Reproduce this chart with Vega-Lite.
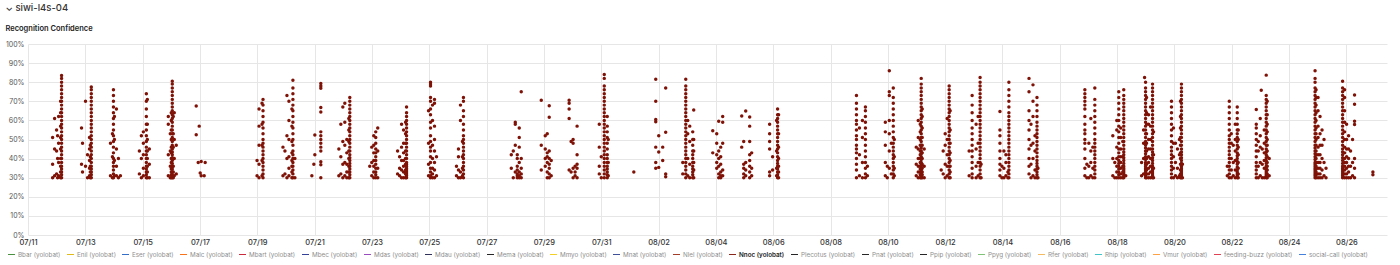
{
"$schema":"https://vega.github.io/schema/vega-lite/v6.json",
"width":1359,"height":191,
"autosize":{"type":"none"},
"padding":{"left":28,"top":44,"right":13,"bottom":30},
"background":"white",
"title":{"text":"⌄ siwi-l4s-04","subtitle":"Recognition Confidence","anchor":"start","frame":"bounds","font":"Inter","fontSize":9.5,"fontWeight":500,"color":"#333333","subtitleFont":"Inter","subtitleFontSize":7.5,"subtitleFontWeight":600,"subtitleColor":"#222222","subtitlePadding":12,"offset":8,"dx":0},
"config":{"view":{"stroke":null}},
"data":{"format":{"parse":{"t":"date:'%m%d %H%M'"}},"values":[
{"t":"0712 0407","v":30},{"t":"0712 0407","v":31.5},{"t":"0712 0407","v":33},{"t":"0712 0407","v":34.5},{"t":"0712 0407","v":36},{"t":"0712 0407","v":38},{"t":"0712 0407","v":40},{"t":"0712 0407","v":42},{"t":"0712 0407","v":44},{"t":"0712 0407","v":46},{"t":"0712 0407","v":48},{"t":"0712 0407","v":50},{"t":"0712 0407","v":52},{"t":"0712 0407","v":54},{"t":"0712 0407","v":56},{"t":"0712 0407","v":58},{"t":"0712 0407","v":60},{"t":"0712 0407","v":62},{"t":"0712 0407","v":64},{"t":"0712 0407","v":66},{"t":"0712 0407","v":68},{"t":"0712 0407","v":70},{"t":"0712 0407","v":72},{"t":"0712 0407","v":74},{"t":"0712 0407","v":76},{"t":"0712 0407","v":78},{"t":"0712 0407","v":80},{"t":"0712 0407","v":82},{"t":"0712 0407","v":83.5},
{"t":"0712 0317","v":30},{"t":"0712 0317","v":33},{"t":"0712 0317","v":36},{"t":"0712 0317","v":40},{"t":"0712 0317","v":45},{"t":"0712 0317","v":51},{"t":"0712 0317","v":57},{"t":"0712 0317","v":64},{"t":"0712 0317","v":70},
{"t":"0712 0137","v":31},{"t":"0712 0137","v":38},{"t":"0712 0137","v":48},{"t":"0712 0137","v":62},
{"t":"0712 0047","v":30},{"t":"0712 0047","v":40},{"t":"0712 0047","v":52},
{"t":"0711 2357","v":32},{"t":"0711 2357","v":44},{"t":"0711 2357","v":55},
{"t":"0711 2217","v":31},{"t":"0711 2217","v":45},{"t":"0711 2217","v":61},
{"t":"0711 2037","v":30},{"t":"0711 2037","v":37},{"t":"0711 2037","v":51},
{"t":"0713 0500","v":30},{"t":"0713 0500","v":31.5},{"t":"0713 0500","v":33},{"t":"0713 0500","v":34.5},{"t":"0713 0500","v":36},{"t":"0713 0500","v":38},{"t":"0713 0500","v":40},{"t":"0713 0500","v":42},{"t":"0713 0500","v":44},{"t":"0713 0500","v":46},{"t":"0713 0500","v":48},{"t":"0713 0500","v":50},{"t":"0713 0500","v":52},{"t":"0713 0500","v":54},{"t":"0713 0500","v":56},{"t":"0713 0500","v":58},{"t":"0713 0500","v":60},{"t":"0713 0500","v":62},{"t":"0713 0500","v":64},{"t":"0713 0500","v":66},{"t":"0713 0500","v":68},{"t":"0713 0500","v":70},{"t":"0713 0500","v":72},{"t":"0713 0500","v":74},{"t":"0713 0500","v":76},{"t":"0713 0500","v":77.5},
{"t":"0713 0410","v":30},{"t":"0713 0410","v":33},{"t":"0713 0410","v":36},{"t":"0713 0410","v":41},{"t":"0713 0410","v":47},
{"t":"0713 0330","v":31},{"t":"0713 0330","v":35},{"t":"0713 0330","v":39},{"t":"0713 0330","v":45},{"t":"0713 0330","v":51},
{"t":"0713 0150","v":30},{"t":"0713 0150","v":42},{"t":"0713 0010","v":36},{"t":"0713 0010","v":70},
{"t":"0712 2140","v":33},{"t":"0712 2140","v":48},{"t":"0712 2050","v":37},{"t":"0712 2050","v":56},
{"t":"0713 2333","v":30},{"t":"0713 2333","v":32},{"t":"0713 2333","v":34},{"t":"0713 2333","v":36},{"t":"0713 2333","v":38},{"t":"0713 2333","v":40},{"t":"0713 2333","v":43},{"t":"0713 2333","v":46},{"t":"0713 2333","v":49},{"t":"0713 2333","v":52},{"t":"0713 2333","v":55},{"t":"0713 2333","v":58},{"t":"0713 2333","v":61},{"t":"0713 2333","v":64},{"t":"0713 2333","v":67},{"t":"0713 2333","v":70},{"t":"0713 2333","v":73},{"t":"0713 2333","v":76},
{"t":"0714 0023","v":31},{"t":"0714 0023","v":39},{"t":"0714 0023","v":50},{"t":"0714 0023","v":62},
{"t":"0713 2243","v":30},{"t":"0713 2243","v":41},{"t":"0713 2243","v":53},
{"t":"0713 2103","v":31},{"t":"0713 2103","v":48},
{"t":"0714 0203","v":31},{"t":"0714 0203","v":36},{"t":"0714 0203","v":45},{"t":"0714 0203","v":66},
{"t":"0714 0343","v":30},{"t":"0714 0343","v":40},{"t":"0714 0523","v":31},
{"t":"0715 0306","v":30},{"t":"0715 0306","v":31.5},{"t":"0715 0306","v":33},{"t":"0715 0306","v":34.5},{"t":"0715 0306","v":36},{"t":"0715 0306","v":38},{"t":"0715 0306","v":40},{"t":"0715 0306","v":42},{"t":"0715 0306","v":44},{"t":"0715 0306","v":46},{"t":"0715 0306","v":49},{"t":"0715 0306","v":52},{"t":"0715 0306","v":55},{"t":"0715 0306","v":58},{"t":"0715 0306","v":62},{"t":"0715 0306","v":66},{"t":"0715 0306","v":70},{"t":"0715 0306","v":74},
{"t":"0715 0356","v":30},{"t":"0715 0356","v":33},{"t":"0715 0356","v":36},{"t":"0715 0356","v":40},{"t":"0715 0356","v":44},{"t":"0715 0356","v":50},{"t":"0715 0356","v":58},{"t":"0715 0356","v":71},
{"t":"0715 0036","v":31},{"t":"0715 0036","v":35},{"t":"0715 0036","v":42},{"t":"0715 0036","v":48},{"t":"0715 0036","v":54},
{"t":"0714 2256","v":30},{"t":"0714 2256","v":40},{"t":"0714 2256","v":52},
{"t":"0714 2116","v":32},{"t":"0714 2116","v":44},
{"t":"0715 0536","v":30},{"t":"0715 0536","v":37},{"t":"0715 0536","v":45},
{"t":"0716 0049","v":30},{"t":"0716 0049","v":31.5},{"t":"0716 0049","v":33},{"t":"0716 0049","v":34.5},{"t":"0716 0049","v":36},{"t":"0716 0049","v":37.5},{"t":"0716 0049","v":39},{"t":"0716 0049","v":40.5},{"t":"0716 0049","v":42},{"t":"0716 0049","v":43.5},{"t":"0716 0049","v":45},{"t":"0716 0049","v":47},{"t":"0716 0049","v":49},{"t":"0716 0049","v":51},{"t":"0716 0049","v":53},{"t":"0716 0049","v":55},{"t":"0716 0049","v":57},{"t":"0716 0049","v":59},{"t":"0716 0049","v":61},{"t":"0716 0049","v":63},{"t":"0716 0049","v":65},{"t":"0716 0049","v":67},{"t":"0716 0049","v":69},{"t":"0716 0049","v":71},{"t":"0716 0049","v":73},{"t":"0716 0049","v":75},{"t":"0716 0049","v":77},{"t":"0716 0049","v":79},{"t":"0716 0049","v":80.5},
{"t":"0715 2359","v":30},{"t":"0715 2359","v":31.5},{"t":"0715 2359","v":33},{"t":"0715 2359","v":34.5},{"t":"0715 2359","v":36},{"t":"0715 2359","v":38},{"t":"0715 2359","v":40},{"t":"0715 2359","v":43},{"t":"0715 2359","v":46},{"t":"0715 2359","v":50},{"t":"0715 2359","v":55},{"t":"0715 2359","v":60},{"t":"0715 2359","v":64},
{"t":"0716 0139","v":30},{"t":"0716 0139","v":33},{"t":"0716 0139","v":36},{"t":"0716 0139","v":40},{"t":"0716 0139","v":46},{"t":"0716 0139","v":53},{"t":"0716 0139","v":62},
{"t":"0716 0229","v":31},{"t":"0716 0229","v":40},{"t":"0716 0229","v":50},{"t":"0716 0229","v":64},
{"t":"0715 2309","v":30},{"t":"0715 2309","v":36},{"t":"0715 2309","v":44},{"t":"0715 2309","v":53},
{"t":"0715 2129","v":31},{"t":"0715 2129","v":42},{"t":"0715 2129","v":58},{"t":"0715 2129","v":62},
{"t":"0716 0409","v":32},{"t":"0716 0409","v":47},
{"t":"0716 2052","v":67.5},{"t":"0716 2052","v":52.5},{"t":"0716 2322","v":57},{"t":"0716 2232","v":38},{"t":"0717 0102","v":38.5},{"t":"0717 0102","v":31},{"t":"0717 0422","v":38},{"t":"0717 0012","v":32.5},{"t":"0717 0332","v":31},
{"t":"0719 0448","v":30},{"t":"0719 0448","v":32},{"t":"0719 0448","v":34},{"t":"0719 0448","v":36},{"t":"0719 0448","v":38},{"t":"0719 0448","v":40},{"t":"0719 0448","v":42},{"t":"0719 0448","v":44},{"t":"0719 0448","v":46},{"t":"0719 0448","v":48},{"t":"0719 0448","v":50},{"t":"0719 0448","v":53},{"t":"0719 0448","v":56},{"t":"0719 0448","v":59},{"t":"0719 0448","v":62},{"t":"0719 0448","v":65},{"t":"0719 0448","v":68},{"t":"0719 0448","v":71},
{"t":"0719 0358","v":31},{"t":"0719 0358","v":39},{"t":"0719 0358","v":47},{"t":"0719 0358","v":58},{"t":"0719 0358","v":69},
{"t":"0719 0128","v":30},{"t":"0719 0128","v":37},{"t":"0719 0128","v":47},{"t":"0719 0128","v":57},{"t":"0719 0128","v":66},
{"t":"0718 2348","v":31},{"t":"0718 2348","v":39},
{"t":"0720 0550","v":30},{"t":"0720 0550","v":32},{"t":"0720 0550","v":34},{"t":"0720 0550","v":36},{"t":"0720 0550","v":38},{"t":"0720 0550","v":40},{"t":"0720 0550","v":42},{"t":"0720 0550","v":44},{"t":"0720 0550","v":47},{"t":"0720 0550","v":50},{"t":"0720 0550","v":53},{"t":"0720 0550","v":56},{"t":"0720 0550","v":59},{"t":"0720 0550","v":62},{"t":"0720 0550","v":65},{"t":"0720 0550","v":68},{"t":"0720 0550","v":71},{"t":"0720 0550","v":74},{"t":"0720 0550","v":77},{"t":"0720 0550","v":81},
{"t":"0720 0500","v":30},{"t":"0720 0500","v":33},{"t":"0720 0500","v":36},{"t":"0720 0500","v":39},{"t":"0720 0500","v":43},{"t":"0720 0500","v":49},{"t":"0720 0500","v":57},{"t":"0720 0500","v":66},
{"t":"0720 0230","v":31},{"t":"0720 0230","v":35},{"t":"0720 0230","v":41},{"t":"0720 0230","v":50},{"t":"0720 0230","v":60},{"t":"0720 0230","v":70},
{"t":"0720 0050","v":30},{"t":"0720 0050","v":40},{"t":"0720 0050","v":52},{"t":"0720 0050","v":73},
{"t":"0719 2310","v":32},{"t":"0719 2310","v":44},{"t":"0719 2130","v":31},{"t":"0719 2130","v":46},{"t":"0720 0730","v":30},{"t":"0720 0730","v":40},
{"t":"0721 0512","v":30},{"t":"0721 0512","v":36.8},{"t":"0721 0512","v":38.4},{"t":"0721 0512","v":44},{"t":"0721 0512","v":46},{"t":"0721 0512","v":48},{"t":"0721 0512","v":50},{"t":"0721 0512","v":52},{"t":"0721 0512","v":54},{"t":"0721 0512","v":64.4},{"t":"0721 0512","v":66.8},{"t":"0721 0512","v":76.8},{"t":"0721 0512","v":78},{"t":"0721 0512","v":79.3},
{"t":"0720 2142","v":31},{"t":"0720 2322","v":37},{"t":"0721 0012","v":42},{"t":"0721 0012","v":52.3},
{"t":"0722 0528","v":30},{"t":"0722 0528","v":31.5},{"t":"0722 0528","v":33},{"t":"0722 0528","v":34.5},{"t":"0722 0528","v":36},{"t":"0722 0528","v":37.5},{"t":"0722 0528","v":39},{"t":"0722 0528","v":40.5},{"t":"0722 0528","v":42},{"t":"0722 0528","v":44},{"t":"0722 0528","v":46},{"t":"0722 0528","v":48},{"t":"0722 0528","v":50},{"t":"0722 0528","v":52},{"t":"0722 0528","v":54},{"t":"0722 0528","v":56},{"t":"0722 0528","v":58},{"t":"0722 0528","v":60},{"t":"0722 0528","v":62},{"t":"0722 0528","v":64},{"t":"0722 0528","v":66},{"t":"0722 0528","v":68},{"t":"0722 0528","v":70},{"t":"0722 0528","v":72},
{"t":"0722 0438","v":30},{"t":"0722 0438","v":33},{"t":"0722 0438","v":36},{"t":"0722 0438","v":40},{"t":"0722 0438","v":44},{"t":"0722 0438","v":49},{"t":"0722 0438","v":55},{"t":"0722 0438","v":61},
{"t":"0722 0258","v":30},{"t":"0722 0258","v":33},{"t":"0722 0258","v":37},{"t":"0722 0258","v":43},{"t":"0722 0258","v":50},
{"t":"0722 0118","v":31},{"t":"0722 0118","v":38},{"t":"0722 0118","v":47},{"t":"0722 0118","v":59},{"t":"0722 0118","v":69},
{"t":"0721 2338","v":30},{"t":"0721 2338","v":37},{"t":"0721 2338","v":49},{"t":"0721 2338","v":67},
{"t":"0721 2158","v":32},{"t":"0721 2158","v":41},{"t":"0721 2158","v":58},
{"t":"0721 2018","v":31},{"t":"0721 2018","v":45},
{"t":"0723 0312","v":30},{"t":"0723 0312","v":31.5},{"t":"0723 0312","v":33},{"t":"0723 0312","v":35},{"t":"0723 0312","v":37},{"t":"0723 0312","v":39},{"t":"0723 0312","v":41},{"t":"0723 0312","v":43},{"t":"0723 0312","v":45},{"t":"0723 0312","v":48},{"t":"0723 0312","v":51},{"t":"0723 0312","v":54},
{"t":"0723 0132","v":30},{"t":"0723 0132","v":33},{"t":"0723 0132","v":36},{"t":"0723 0132","v":39},{"t":"0723 0132","v":43},{"t":"0723 0132","v":47},{"t":"0723 0132","v":52},
{"t":"0722 2352","v":31},{"t":"0722 2352","v":38},{"t":"0722 2352","v":46},
{"t":"0723 0452","v":30},{"t":"0723 0452","v":35},{"t":"0723 0452","v":44},{"t":"0723 0452","v":56},
{"t":"0722 2212","v":36},
{"t":"0724 0500","v":30},{"t":"0724 0500","v":31},{"t":"0724 0500","v":32},{"t":"0724 0500","v":33},{"t":"0724 0500","v":34},{"t":"0724 0500","v":35},{"t":"0724 0500","v":36},{"t":"0724 0500","v":37},{"t":"0724 0500","v":38},{"t":"0724 0500","v":40},{"t":"0724 0500","v":42},{"t":"0724 0500","v":44},{"t":"0724 0500","v":46},{"t":"0724 0500","v":48},{"t":"0724 0500","v":50},{"t":"0724 0500","v":52},{"t":"0724 0500","v":54},{"t":"0724 0500","v":56},{"t":"0724 0500","v":58},{"t":"0724 0500","v":60},{"t":"0724 0500","v":62},{"t":"0724 0500","v":64},{"t":"0724 0500","v":67},
{"t":"0724 0410","v":30},{"t":"0724 0410","v":32},{"t":"0724 0410","v":34},{"t":"0724 0410","v":37},{"t":"0724 0410","v":40},{"t":"0724 0410","v":44},{"t":"0724 0410","v":48},{"t":"0724 0410","v":53},{"t":"0724 0410","v":59},
{"t":"0724 0230","v":30},{"t":"0724 0230","v":33},{"t":"0724 0230","v":36},{"t":"0724 0230","v":39},{"t":"0724 0230","v":43},{"t":"0724 0230","v":48},{"t":"0724 0230","v":55},
{"t":"0724 0050","v":30},{"t":"0724 0050","v":34},{"t":"0724 0050","v":39},{"t":"0724 0050","v":46},{"t":"0724 0050","v":58},
{"t":"0723 2310","v":31},{"t":"0723 2310","v":35},{"t":"0723 2310","v":41},
{"t":"0723 2130","v":32},{"t":"0723 2130","v":44},
{"t":"0725 0104","v":30},{"t":"0725 0104","v":31},{"t":"0725 0104","v":33},{"t":"0725 0104","v":35},{"t":"0725 0104","v":38},{"t":"0725 0104","v":41},{"t":"0725 0104","v":44},{"t":"0725 0104","v":46},{"t":"0725 0104","v":49},{"t":"0725 0104","v":52},{"t":"0725 0104","v":56},{"t":"0725 0104","v":59},{"t":"0725 0104","v":63},{"t":"0725 0104","v":66},{"t":"0725 0104","v":70},{"t":"0725 0104","v":72},{"t":"0725 0104","v":78},{"t":"0725 0104","v":79},{"t":"0725 0104","v":80},
{"t":"0724 2324","v":31},{"t":"0724 2324","v":37},{"t":"0724 2324","v":48},{"t":"0724 2324","v":65},
{"t":"0725 0244","v":30},{"t":"0725 0244","v":32},{"t":"0725 0244","v":35},{"t":"0725 0244","v":40},{"t":"0725 0244","v":47},{"t":"0725 0244","v":60},{"t":"0725 0244","v":68},
{"t":"0725 0424","v":30},{"t":"0725 0424","v":34},{"t":"0725 0424","v":38},{"t":"0725 0424","v":44},{"t":"0725 0424","v":50},{"t":"0725 0424","v":57},{"t":"0725 0424","v":69},{"t":"0725 0424","v":71},
{"t":"0725 0604","v":31},{"t":"0725 0604","v":41},
{"t":"0726 0438","v":30},{"t":"0726 0438","v":32},{"t":"0726 0438","v":34},{"t":"0726 0438","v":36},{"t":"0726 0438","v":38},{"t":"0726 0438","v":40},{"t":"0726 0438","v":42},{"t":"0726 0438","v":44},{"t":"0726 0438","v":46},{"t":"0726 0438","v":48},{"t":"0726 0438","v":50},{"t":"0726 0438","v":52},{"t":"0726 0438","v":55},{"t":"0726 0438","v":58},{"t":"0726 0438","v":62},{"t":"0726 0438","v":65},{"t":"0726 0438","v":70},{"t":"0726 0438","v":72},
{"t":"0726 0348","v":31},{"t":"0726 0348","v":35},{"t":"0726 0348","v":41},{"t":"0726 0348","v":49},
{"t":"0726 0028","v":30},{"t":"0726 0028","v":34},{"t":"0726 0028","v":41},{"t":"0726 0028","v":45},
{"t":"0725 2248","v":31},{"t":"0725 2248","v":36},
{"t":"0726 0208","v":30},{"t":"0726 0208","v":33},{"t":"0726 0208","v":60},{"t":"0726 0208","v":68},
{"t":"0727 2042","v":35},{"t":"0727 2042","v":42},{"t":"0727 2222","v":30},{"t":"0727 2222","v":44},
{"t":"0728 0002","v":33},{"t":"0728 0002","v":47},{"t":"0728 0002","v":58},{"t":"0728 0002","v":59},
{"t":"0728 0142","v":30},{"t":"0728 0142","v":31},{"t":"0728 0142","v":32},{"t":"0728 0142","v":34},{"t":"0728 0142","v":36},{"t":"0728 0142","v":40},{"t":"0728 0142","v":42},
{"t":"0728 0322","v":30},{"t":"0728 0322","v":31},{"t":"0728 0322","v":33},{"t":"0728 0322","v":38},{"t":"0728 0322","v":46},{"t":"0728 0322","v":51},{"t":"0728 0322","v":56},
{"t":"0728 0502","v":30},{"t":"0728 0502","v":32},{"t":"0728 0502","v":35},{"t":"0728 0502","v":40},{"t":"0728 0502","v":75},
{"t":"0728 2148","v":34},{"t":"0728 2148","v":47},{"t":"0728 2148","v":70.5},
{"t":"0729 0108","v":36},{"t":"0729 0108","v":40},{"t":"0729 0108","v":45},{"t":"0729 0108","v":52},
{"t":"0729 0248","v":30},{"t":"0729 0248","v":33},{"t":"0729 0248","v":38},{"t":"0729 0248","v":41},{"t":"0729 0248","v":43},{"t":"0729 0248","v":53},
{"t":"0729 0428","v":30},{"t":"0729 0428","v":32},{"t":"0729 0428","v":35},{"t":"0729 0428","v":37},{"t":"0729 0428","v":40},{"t":"0729 0428","v":44},{"t":"0729 0428","v":61.6},{"t":"0729 0428","v":67.7},
{"t":"0729 0608","v":31},{"t":"0729 0608","v":39},
{"t":"0729 2108","v":34},{"t":"0729 2108","v":61},{"t":"0729 2108","v":66},{"t":"0729 2108","v":69},{"t":"0729 2108","v":70.5},
{"t":"0729 2248","v":33},{"t":"0729 2248","v":49},
{"t":"0730 0028","v":30},{"t":"0730 0028","v":35},{"t":"0730 0028","v":48},{"t":"0730 0028","v":50},
{"t":"0730 0208","v":31},{"t":"0730 0208","v":33},{"t":"0730 0208","v":36},
{"t":"0730 0348","v":30},{"t":"0730 0348","v":35},{"t":"0730 0348","v":37},{"t":"0730 0348","v":42},{"t":"0730 0348","v":57},
{"t":"0731 0233","v":30},{"t":"0731 0233","v":32},{"t":"0731 0233","v":34},{"t":"0731 0233","v":36},{"t":"0731 0233","v":38},{"t":"0731 0233","v":40},{"t":"0731 0233","v":42},{"t":"0731 0233","v":44},{"t":"0731 0233","v":46},{"t":"0731 0233","v":48},{"t":"0731 0233","v":50},{"t":"0731 0233","v":52},{"t":"0731 0233","v":54},{"t":"0731 0233","v":56},{"t":"0731 0233","v":58},{"t":"0731 0233","v":60},{"t":"0731 0233","v":62},{"t":"0731 0233","v":64},{"t":"0731 0233","v":66},{"t":"0731 0233","v":68},{"t":"0731 0233","v":70},{"t":"0731 0233","v":72},{"t":"0731 0233","v":74},{"t":"0731 0233","v":76},{"t":"0731 0233","v":78},{"t":"0731 0233","v":82},{"t":"0731 0233","v":84},
{"t":"0731 0503","v":30},{"t":"0731 0503","v":31.5},{"t":"0731 0503","v":33},{"t":"0731 0503","v":34.5},{"t":"0731 0503","v":36},{"t":"0731 0503","v":38},{"t":"0731 0503","v":40},{"t":"0731 0503","v":42},{"t":"0731 0503","v":45},{"t":"0731 0503","v":48},{"t":"0731 0503","v":51},{"t":"0731 0503","v":54},{"t":"0731 0503","v":57},{"t":"0731 0503","v":62},
{"t":"0731 0553","v":31},{"t":"0731 0553","v":38},{"t":"0731 0553","v":50},
{"t":"0730 2223","v":32},{"t":"0730 2223","v":36},{"t":"0730 2223","v":46},{"t":"0730 2223","v":58},
{"t":"0731 0003","v":30},{"t":"0731 0003","v":41},
{"t":"0801 0318","v":33},
{"t":"0801 2140","v":81.5},{"t":"0801 2140","v":70},{"t":"0801 2140","v":60.5},{"t":"0801 2140","v":59.3},{"t":"0801 2140","v":46},{"t":"0801 2140","v":38},{"t":"0801 2140","v":35},
{"t":"0802 0010","v":52},{"t":"0802 0010","v":43.4},{"t":"0802 0010","v":35.4},
{"t":"0802 0330","v":46},{"t":"0802 0330","v":39},
{"t":"0802 0600","v":77},{"t":"0802 0600","v":53.8},{"t":"0802 0600","v":32},{"t":"0802 0600","v":30.5},
{"t":"0802 2248","v":30},{"t":"0802 2248","v":32},{"t":"0802 2248","v":34},{"t":"0802 2248","v":36},{"t":"0802 2248","v":38},{"t":"0802 2248","v":40},{"t":"0802 2248","v":42},{"t":"0802 2248","v":44},{"t":"0802 2248","v":46},{"t":"0802 2248","v":48},{"t":"0802 2248","v":50},{"t":"0802 2248","v":52},{"t":"0802 2248","v":54},{"t":"0802 2248","v":56},{"t":"0802 2248","v":58},{"t":"0802 2248","v":60},{"t":"0802 2248","v":62},{"t":"0802 2248","v":64},{"t":"0802 2248","v":66},{"t":"0802 2248","v":68},{"t":"0802 2248","v":70},{"t":"0802 2248","v":72},{"t":"0802 2248","v":74},{"t":"0802 2248","v":76},{"t":"0802 2248","v":78},{"t":"0802 2248","v":81.5},
{"t":"0803 0438","v":30},{"t":"0803 0438","v":31.5},{"t":"0803 0438","v":33},{"t":"0803 0438","v":34.5},{"t":"0803 0438","v":36},{"t":"0803 0438","v":38},{"t":"0803 0438","v":40},{"t":"0803 0438","v":42},{"t":"0803 0438","v":44},{"t":"0803 0438","v":47},{"t":"0803 0438","v":50},{"t":"0803 0438","v":54},
{"t":"0803 0528","v":30},{"t":"0803 0528","v":34},{"t":"0803 0528","v":38},{"t":"0803 0528","v":44},{"t":"0803 0528","v":50},{"t":"0803 0528","v":65.5},
{"t":"0803 0028","v":31},{"t":"0803 0028","v":40},{"t":"0803 0028","v":53},{"t":"0803 0028","v":60},
{"t":"0803 0208","v":30},{"t":"0803 0208","v":37},{"t":"0803 0208","v":49},{"t":"0803 0208","v":57},
{"t":"0802 2018","v":32},{"t":"0802 2018","v":38},
{"t":"0803 2124","v":43},{"t":"0803 2124","v":54.6},
{"t":"0804 0044","v":35},{"t":"0804 0044","v":38},{"t":"0804 0044","v":42},{"t":"0804 0044","v":48},{"t":"0804 0044","v":53},
{"t":"0804 0224","v":30},{"t":"0804 0224","v":32},{"t":"0804 0224","v":36},{"t":"0804 0224","v":40},{"t":"0804 0224","v":44},{"t":"0804 0224","v":59.6},
{"t":"0804 0404","v":30},{"t":"0804 0404","v":31},{"t":"0804 0404","v":33},{"t":"0804 0404","v":37},{"t":"0804 0404","v":41},{"t":"0804 0404","v":46},
{"t":"0804 0544","v":31},{"t":"0804 0544","v":34},{"t":"0804 0544","v":48},{"t":"0804 0544","v":59},{"t":"0804 0544","v":62},
{"t":"0804 2140","v":46},{"t":"0804 2140","v":62.3},
{"t":"0804 2320","v":30},{"t":"0804 2320","v":32},{"t":"0804 2320","v":35},{"t":"0804 2320","v":37},{"t":"0804 2320","v":49},
{"t":"0805 0100","v":31},{"t":"0805 0100","v":34},{"t":"0805 0100","v":38},{"t":"0805 0100","v":64.9},
{"t":"0805 0420","v":30},{"t":"0805 0420","v":33},{"t":"0805 0420","v":36},{"t":"0805 0420","v":39},{"t":"0805 0420","v":42},{"t":"0805 0420","v":49},{"t":"0805 0420","v":57},{"t":"0805 0420","v":61.8},
{"t":"0805 0600","v":31},{"t":"0805 0600","v":35},{"t":"0805 0600","v":43},
{"t":"0806 0342","v":30},{"t":"0806 0342","v":31.5},{"t":"0806 0342","v":33},{"t":"0806 0342","v":34.5},{"t":"0806 0342","v":36},{"t":"0806 0342","v":37.5},{"t":"0806 0342","v":39},{"t":"0806 0342","v":41},{"t":"0806 0342","v":43},{"t":"0806 0342","v":45},{"t":"0806 0342","v":47},{"t":"0806 0342","v":49},{"t":"0806 0342","v":51},{"t":"0806 0342","v":53},{"t":"0806 0342","v":55},{"t":"0806 0342","v":57},{"t":"0806 0342","v":59},{"t":"0806 0342","v":61},{"t":"0806 0342","v":63},{"t":"0806 0342","v":66},
{"t":"0806 0432","v":30},{"t":"0806 0432","v":33},{"t":"0806 0432","v":36},{"t":"0806 0432","v":40},{"t":"0806 0432","v":46},{"t":"0806 0432","v":53},{"t":"0806 0432","v":63},
{"t":"0806 0252","v":31},{"t":"0806 0252","v":35},{"t":"0806 0252","v":44},{"t":"0806 0252","v":60},
{"t":"0805 2102","v":31},{"t":"0805 2102","v":33},{"t":"0805 2102","v":45},{"t":"0805 2102","v":49},{"t":"0805 2102","v":53},{"t":"0805 2102","v":58},
{"t":"0805 2332","v":34},{"t":"0805 2332","v":41},
{"t":"0808 2144","v":30},{"t":"0808 2144","v":34},{"t":"0808 2144","v":37},{"t":"0808 2144","v":40},{"t":"0808 2144","v":43},{"t":"0808 2144","v":45},{"t":"0808 2144","v":47},{"t":"0808 2144","v":50},{"t":"0808 2144","v":52},{"t":"0808 2144","v":55},{"t":"0808 2144","v":58},{"t":"0808 2144","v":60},{"t":"0808 2144","v":63},{"t":"0808 2144","v":66},{"t":"0808 2144","v":69},{"t":"0808 2144","v":73},
{"t":"0809 0014","v":31},{"t":"0809 0014","v":42},{"t":"0809 0014","v":56},
{"t":"0809 0244","v":30},{"t":"0809 0244","v":38},{"t":"0809 0244","v":51},{"t":"0809 0244","v":60},
{"t":"0809 0514","v":30},{"t":"0809 0514","v":32},{"t":"0809 0514","v":35},{"t":"0809 0514","v":38},{"t":"0809 0514","v":41},{"t":"0809 0514","v":44},{"t":"0809 0514","v":47},{"t":"0809 0514","v":50},{"t":"0809 0514","v":53},{"t":"0809 0514","v":56},{"t":"0809 0514","v":59},{"t":"0809 0514","v":62},{"t":"0809 0514","v":65},{"t":"0809 0514","v":67},
{"t":"0809 0654","v":31},{"t":"0809 0654","v":36},
{"t":"0810 0114","v":35},{"t":"0810 0114","v":44},{"t":"0810 0114","v":53},{"t":"0810 0114","v":60},{"t":"0810 0114","v":73},{"t":"0810 0114","v":75},{"t":"0810 0114","v":86},
{"t":"0810 0434","v":30},{"t":"0810 0434","v":32},{"t":"0810 0434","v":34},{"t":"0810 0434","v":36},{"t":"0810 0434","v":38},{"t":"0810 0434","v":40},{"t":"0810 0434","v":42},{"t":"0810 0434","v":44},{"t":"0810 0434","v":46},{"t":"0810 0434","v":48},{"t":"0810 0434","v":51},{"t":"0810 0434","v":54},{"t":"0810 0434","v":57},{"t":"0810 0434","v":60},{"t":"0810 0434","v":63},{"t":"0810 0434","v":66},{"t":"0810 0434","v":69},{"t":"0810 0434","v":72},{"t":"0810 0434","v":77},
{"t":"0810 0524","v":31},{"t":"0810 0524","v":35},{"t":"0810 0524","v":41},{"t":"0810 0524","v":50},
{"t":"0809 2154","v":31},{"t":"0809 2154","v":38},{"t":"0809 2154","v":47},{"t":"0809 2154","v":54},{"t":"0809 2154","v":59},
{"t":"0809 2334","v":30},{"t":"0809 2334","v":36},{"t":"0810 0254","v":32},{"t":"0810 0254","v":48},
{"t":"0811 0358","v":30},{"t":"0811 0358","v":31},{"t":"0811 0358","v":32},{"t":"0811 0358","v":33},{"t":"0811 0358","v":34},{"t":"0811 0358","v":35},{"t":"0811 0358","v":36},{"t":"0811 0358","v":37},{"t":"0811 0358","v":38},{"t":"0811 0358","v":39.5},{"t":"0811 0358","v":41},{"t":"0811 0358","v":42.5},{"t":"0811 0358","v":44},{"t":"0811 0358","v":45.5},{"t":"0811 0358","v":47},{"t":"0811 0358","v":49},{"t":"0811 0358","v":51},{"t":"0811 0358","v":53},{"t":"0811 0358","v":55},{"t":"0811 0358","v":57},{"t":"0811 0358","v":59},{"t":"0811 0358","v":61},{"t":"0811 0358","v":63},{"t":"0811 0358","v":65},{"t":"0811 0358","v":67},{"t":"0811 0358","v":69},{"t":"0811 0358","v":71},{"t":"0811 0358","v":73},{"t":"0811 0358","v":75},{"t":"0811 0358","v":77},{"t":"0811 0358","v":79},{"t":"0811 0358","v":82},
{"t":"0811 0308","v":30},{"t":"0811 0308","v":31.5},{"t":"0811 0308","v":33},{"t":"0811 0308","v":34.5},{"t":"0811 0308","v":36},{"t":"0811 0308","v":38},{"t":"0811 0308","v":40},{"t":"0811 0308","v":42},{"t":"0811 0308","v":44},{"t":"0811 0308","v":47},{"t":"0811 0308","v":50},{"t":"0811 0308","v":54},{"t":"0811 0308","v":58},
{"t":"0811 0448","v":30},{"t":"0811 0448","v":31.5},{"t":"0811 0448","v":33},{"t":"0811 0448","v":35},{"t":"0811 0448","v":37},{"t":"0811 0448","v":40},{"t":"0811 0448","v":43},{"t":"0811 0448","v":47},{"t":"0811 0448","v":51},{"t":"0811 0448","v":56},{"t":"0811 0448","v":62},{"t":"0811 0448","v":66},
{"t":"0811 0128","v":30},{"t":"0811 0128","v":33},{"t":"0811 0128","v":36},{"t":"0811 0128","v":40},{"t":"0811 0128","v":45},{"t":"0811 0128","v":51},{"t":"0811 0128","v":60},
{"t":"0810 2348","v":31},{"t":"0810 2348","v":37},{"t":"0810 2348","v":46},
{"t":"0811 0628","v":30},{"t":"0811 0628","v":36},{"t":"0811 0628","v":45},
{"t":"0812 0322","v":30},{"t":"0812 0322","v":32},{"t":"0812 0322","v":34},{"t":"0812 0322","v":36},{"t":"0812 0322","v":38},{"t":"0812 0322","v":40},{"t":"0812 0322","v":42},{"t":"0812 0322","v":44},{"t":"0812 0322","v":46},{"t":"0812 0322","v":48},{"t":"0812 0322","v":50},{"t":"0812 0322","v":52},{"t":"0812 0322","v":54},{"t":"0812 0322","v":56},{"t":"0812 0322","v":58},{"t":"0812 0322","v":60},{"t":"0812 0322","v":62},{"t":"0812 0322","v":64},{"t":"0812 0322","v":66},{"t":"0812 0322","v":68},{"t":"0812 0322","v":70},{"t":"0812 0322","v":72},{"t":"0812 0322","v":74},{"t":"0812 0322","v":76},{"t":"0812 0322","v":78},
{"t":"0812 0412","v":30},{"t":"0812 0412","v":33},{"t":"0812 0412","v":36},{"t":"0812 0412","v":39},{"t":"0812 0412","v":43},{"t":"0812 0412","v":48},{"t":"0812 0412","v":55},{"t":"0812 0412","v":65},
{"t":"0812 0142","v":31},{"t":"0812 0142","v":36},{"t":"0812 0142","v":42},{"t":"0812 0142","v":50},{"t":"0812 0142","v":61},
{"t":"0812 0002","v":30},{"t":"0812 0002","v":37},{"t":"0812 0002","v":47},{"t":"0812 0002","v":53},
{"t":"0811 2222","v":32},{"t":"0811 2222","v":44},{"t":"0811 2042","v":34},
{"t":"0813 0516","v":30},{"t":"0813 0516","v":32},{"t":"0813 0516","v":34},{"t":"0813 0516","v":36},{"t":"0813 0516","v":38},{"t":"0813 0516","v":40},{"t":"0813 0516","v":42},{"t":"0813 0516","v":44},{"t":"0813 0516","v":46},{"t":"0813 0516","v":48},{"t":"0813 0516","v":50},{"t":"0813 0516","v":52},{"t":"0813 0516","v":54},{"t":"0813 0516","v":56},{"t":"0813 0516","v":58},{"t":"0813 0516","v":60},{"t":"0813 0516","v":62},{"t":"0813 0516","v":64},{"t":"0813 0516","v":66},{"t":"0813 0516","v":68},{"t":"0813 0516","v":70},{"t":"0813 0516","v":72},{"t":"0813 0516","v":74},{"t":"0813 0516","v":76},{"t":"0813 0516","v":78},{"t":"0813 0516","v":80},{"t":"0813 0516","v":82.5},
{"t":"0812 2236","v":30},{"t":"0812 2236","v":32},{"t":"0812 2236","v":35},{"t":"0812 2236","v":38},{"t":"0812 2236","v":41},{"t":"0812 2236","v":44},{"t":"0812 2236","v":47},{"t":"0812 2236","v":50},{"t":"0812 2236","v":53},{"t":"0812 2236","v":56},{"t":"0812 2236","v":60},{"t":"0812 2236","v":64},{"t":"0812 2236","v":68},{"t":"0812 2236","v":73},
{"t":"0813 0156","v":30},{"t":"0813 0156","v":36},{"t":"0813 0156","v":45},{"t":"0813 0156","v":58},
{"t":"0813 0336","v":31},{"t":"0813 0336","v":38},{"t":"0813 0336","v":48},{"t":"0813 0336","v":62},
{"t":"0812 2006","v":31},{"t":"0812 2006","v":44},{"t":"0813 0606","v":30},{"t":"0813 0606","v":37},
{"t":"0814 0523","v":30},{"t":"0814 0523","v":32},{"t":"0814 0523","v":34},{"t":"0814 0523","v":36},{"t":"0814 0523","v":38},{"t":"0814 0523","v":40},{"t":"0814 0523","v":42},{"t":"0814 0523","v":44},{"t":"0814 0523","v":46},{"t":"0814 0523","v":48},{"t":"0814 0523","v":50},{"t":"0814 0523","v":52},{"t":"0814 0523","v":54},{"t":"0814 0523","v":56},{"t":"0814 0523","v":58},{"t":"0814 0523","v":60},{"t":"0814 0523","v":62},{"t":"0814 0523","v":64},{"t":"0814 0523","v":67},{"t":"0814 0523","v":70},{"t":"0814 0523","v":73},{"t":"0814 0523","v":76},{"t":"0814 0523","v":80},
{"t":"0813 2153","v":31},{"t":"0813 2153","v":34},{"t":"0813 2153","v":37},{"t":"0813 2153","v":40},{"t":"0813 2153","v":44},{"t":"0813 2153","v":48},{"t":"0813 2153","v":52},{"t":"0813 2153","v":55},{"t":"0813 2153","v":64.7},
{"t":"0813 2333","v":30},{"t":"0813 2333","v":36},{"t":"0814 0113","v":30},{"t":"0814 0113","v":35},{"t":"0814 0113","v":44},
{"t":"0814 0253","v":31},{"t":"0814 0253","v":38},{"t":"0814 0253","v":42},{"t":"0814 0433","v":30},{"t":"0814 0433","v":33},
{"t":"0815 0454","v":30},{"t":"0815 0454","v":31.5},{"t":"0815 0454","v":33},{"t":"0815 0454","v":34.5},{"t":"0815 0454","v":36},{"t":"0815 0454","v":37.5},{"t":"0815 0454","v":39},{"t":"0815 0454","v":41},{"t":"0815 0454","v":43},{"t":"0815 0454","v":45},{"t":"0815 0454","v":47},{"t":"0815 0454","v":49},{"t":"0815 0454","v":51},{"t":"0815 0454","v":53},{"t":"0815 0454","v":55},{"t":"0815 0454","v":57},{"t":"0815 0454","v":59},{"t":"0815 0454","v":62},{"t":"0815 0454","v":65},{"t":"0815 0454","v":68},{"t":"0815 0454","v":72},
{"t":"0814 2214","v":32},{"t":"0814 2214","v":36},{"t":"0814 2214","v":40},{"t":"0814 2214","v":45},{"t":"0814 2214","v":50},{"t":"0814 2214","v":55},{"t":"0814 2214","v":60},{"t":"0814 2214","v":65},{"t":"0814 2214","v":75},{"t":"0814 2214","v":82},
{"t":"0814 2354","v":30},{"t":"0814 2354","v":37},{"t":"0814 2354","v":47},{"t":"0814 2354","v":58},
{"t":"0815 0134","v":31},{"t":"0815 0134","v":40},{"t":"0815 0134","v":48},{"t":"0815 0134","v":62},{"t":"0815 0134","v":70},{"t":"0815 0134","v":78.6},
{"t":"0815 0314","v":30},{"t":"0815 0314","v":34},{"t":"0815 0314","v":44},{"t":"0815 0314","v":52},
{"t":"0815 0544","v":30},{"t":"0815 0544","v":35},
{"t":"0816 2100","v":31},{"t":"0816 2100","v":35},{"t":"0816 2100","v":40},{"t":"0816 2100","v":45},{"t":"0816 2100","v":48},{"t":"0816 2100","v":50},{"t":"0816 2100","v":53},{"t":"0816 2100","v":55},{"t":"0816 2100","v":58},{"t":"0816 2100","v":62},{"t":"0816 2100","v":66},{"t":"0816 2100","v":68},{"t":"0816 2100","v":70},{"t":"0816 2100","v":72},{"t":"0816 2100","v":74},{"t":"0816 2100","v":76},
{"t":"0817 0520","v":30},{"t":"0817 0520","v":32},{"t":"0817 0520","v":34},{"t":"0817 0520","v":36},{"t":"0817 0520","v":38},{"t":"0817 0520","v":40},{"t":"0817 0520","v":42},{"t":"0817 0520","v":44},{"t":"0817 0520","v":46},{"t":"0817 0520","v":48},{"t":"0817 0520","v":50},{"t":"0817 0520","v":53},{"t":"0817 0520","v":56},{"t":"0817 0520","v":59},{"t":"0817 0520","v":62},{"t":"0817 0520","v":65},{"t":"0817 0520","v":68},{"t":"0817 0520","v":71},{"t":"0817 0520","v":77},
{"t":"0817 0020","v":30},{"t":"0817 0020","v":36},{"t":"0817 0020","v":48},
{"t":"0817 0200","v":31},{"t":"0817 0200","v":38},{"t":"0817 0200","v":44},{"t":"0817 0200","v":61},
{"t":"0817 0340","v":30},{"t":"0817 0340","v":35},{"t":"0817 0340","v":46},
{"t":"0816 2240","v":30},{"t":"0816 2240","v":37},
{"t":"0818 0534","v":30},{"t":"0818 0534","v":31},{"t":"0818 0534","v":32},{"t":"0818 0534","v":33},{"t":"0818 0534","v":34},{"t":"0818 0534","v":35},{"t":"0818 0534","v":36},{"t":"0818 0534","v":37.5},{"t":"0818 0534","v":39},{"t":"0818 0534","v":40.5},{"t":"0818 0534","v":42},{"t":"0818 0534","v":43.5},{"t":"0818 0534","v":45},{"t":"0818 0534","v":47},{"t":"0818 0534","v":49},{"t":"0818 0534","v":51},{"t":"0818 0534","v":53},{"t":"0818 0534","v":55},{"t":"0818 0534","v":57},{"t":"0818 0534","v":59},{"t":"0818 0534","v":61},{"t":"0818 0534","v":63},{"t":"0818 0534","v":65},{"t":"0818 0534","v":67},{"t":"0818 0534","v":69},{"t":"0818 0534","v":71},{"t":"0818 0534","v":73},{"t":"0818 0534","v":76},
{"t":"0818 0124","v":30},{"t":"0818 0124","v":31.5},{"t":"0818 0124","v":33},{"t":"0818 0124","v":34.5},{"t":"0818 0124","v":36},{"t":"0818 0124","v":37.5},{"t":"0818 0124","v":39},{"t":"0818 0124","v":41},{"t":"0818 0124","v":43},{"t":"0818 0124","v":45},{"t":"0818 0124","v":48},{"t":"0818 0124","v":51},{"t":"0818 0124","v":54},{"t":"0818 0124","v":57},{"t":"0818 0124","v":60},{"t":"0818 0124","v":63},{"t":"0818 0124","v":66},{"t":"0818 0124","v":69},{"t":"0818 0124","v":72},{"t":"0818 0124","v":75},
{"t":"0817 2344","v":30},{"t":"0817 2344","v":33},{"t":"0817 2344","v":36},{"t":"0817 2344","v":40},{"t":"0817 2344","v":46},{"t":"0817 2344","v":55},{"t":"0817 2344","v":60},
{"t":"0818 0304","v":30},{"t":"0818 0304","v":32},{"t":"0818 0304","v":35},{"t":"0818 0304","v":38},{"t":"0818 0304","v":41},{"t":"0818 0304","v":45},{"t":"0818 0304","v":51},{"t":"0818 0304","v":56},
{"t":"0818 0444","v":30},{"t":"0818 0444","v":33},{"t":"0818 0444","v":36},{"t":"0818 0444","v":41},{"t":"0818 0444","v":49},
{"t":"0817 2024","v":31},{"t":"0817 2024","v":40},{"t":"0817 2024","v":52},
{"t":"0817 2204","v":30},{"t":"0817 2204","v":38},{"t":"0818 0714","v":31},
{"t":"0818 2350","v":30},{"t":"0818 2350","v":31},{"t":"0818 2350","v":32},{"t":"0818 2350","v":33},{"t":"0818 2350","v":34},{"t":"0818 2350","v":35},{"t":"0818 2350","v":36},{"t":"0818 2350","v":37},{"t":"0818 2350","v":38},{"t":"0818 2350","v":39.5},{"t":"0818 2350","v":41},{"t":"0818 2350","v":42.5},{"t":"0818 2350","v":44},{"t":"0818 2350","v":45.5},{"t":"0818 2350","v":47},{"t":"0818 2350","v":49},{"t":"0818 2350","v":51},{"t":"0818 2350","v":53},{"t":"0818 2350","v":55},{"t":"0818 2350","v":57},{"t":"0818 2350","v":59},{"t":"0818 2350","v":61},{"t":"0818 2350","v":63},{"t":"0818 2350","v":65},{"t":"0818 2350","v":67},{"t":"0818 2350","v":69},{"t":"0818 2350","v":71},{"t":"0818 2350","v":73},{"t":"0818 2350","v":75},{"t":"0818 2350","v":77},{"t":"0818 2350","v":80},
{"t":"0818 2300","v":82.5},
{"t":"0819 0540","v":30},{"t":"0819 0540","v":31},{"t":"0819 0540","v":32},{"t":"0819 0540","v":33},{"t":"0819 0540","v":34},{"t":"0819 0540","v":35},{"t":"0819 0540","v":36},{"t":"0819 0540","v":37.5},{"t":"0819 0540","v":39},{"t":"0819 0540","v":40.5},{"t":"0819 0540","v":42},{"t":"0819 0540","v":43.5},{"t":"0819 0540","v":45},{"t":"0819 0540","v":47},{"t":"0819 0540","v":49},{"t":"0819 0540","v":51},{"t":"0819 0540","v":53},{"t":"0819 0540","v":55},{"t":"0819 0540","v":57},{"t":"0819 0540","v":59},{"t":"0819 0540","v":61},{"t":"0819 0540","v":63},{"t":"0819 0540","v":65},{"t":"0819 0540","v":67},{"t":"0819 0540","v":69},{"t":"0819 0540","v":71},{"t":"0819 0540","v":73},{"t":"0819 0540","v":75},{"t":"0819 0540","v":77},{"t":"0819 0540","v":79},
{"t":"0819 0040","v":30},{"t":"0819 0040","v":32},{"t":"0819 0040","v":34},{"t":"0819 0040","v":37},{"t":"0819 0040","v":40},{"t":"0819 0040","v":44},{"t":"0819 0040","v":48},{"t":"0819 0040","v":53},{"t":"0819 0040","v":58},{"t":"0819 0040","v":64},{"t":"0819 0040","v":72},
{"t":"0819 0220","v":30},{"t":"0819 0220","v":32},{"t":"0819 0220","v":35},{"t":"0819 0220","v":38},{"t":"0819 0220","v":41},{"t":"0819 0220","v":45},{"t":"0819 0220","v":50},{"t":"0819 0220","v":58},{"t":"0819 0220","v":63},
{"t":"0819 0400","v":30},{"t":"0819 0400","v":33},{"t":"0819 0400","v":36},{"t":"0819 0400","v":40},{"t":"0819 0400","v":45},{"t":"0819 0400","v":50},{"t":"0819 0400","v":57},{"t":"0819 0400","v":67},
{"t":"0819 0630","v":30},{"t":"0819 0630","v":35},{"t":"0819 0630","v":42},{"t":"0819 0630","v":54},
{"t":"0818 2210","v":32},{"t":"0818 2210","v":40},{"t":"0818 2210","v":48},{"t":"0818 2210","v":55},
{"t":"0818 2030","v":31},{"t":"0818 2030","v":38},
{"t":"0820 0552","v":30},{"t":"0820 0552","v":31},{"t":"0820 0552","v":32},{"t":"0820 0552","v":33},{"t":"0820 0552","v":34},{"t":"0820 0552","v":35},{"t":"0820 0552","v":36},{"t":"0820 0552","v":37.5},{"t":"0820 0552","v":39},{"t":"0820 0552","v":40.5},{"t":"0820 0552","v":42},{"t":"0820 0552","v":43.5},{"t":"0820 0552","v":45},{"t":"0820 0552","v":47},{"t":"0820 0552","v":49},{"t":"0820 0552","v":51},{"t":"0820 0552","v":53},{"t":"0820 0552","v":55},{"t":"0820 0552","v":57},{"t":"0820 0552","v":59},{"t":"0820 0552","v":61},{"t":"0820 0552","v":63},{"t":"0820 0552","v":65},{"t":"0820 0552","v":67},{"t":"0820 0552","v":69},{"t":"0820 0552","v":71},{"t":"0820 0552","v":73},{"t":"0820 0552","v":75},{"t":"0820 0552","v":77},{"t":"0820 0552","v":79},
{"t":"0820 0502","v":30},{"t":"0820 0502","v":32},{"t":"0820 0502","v":34},{"t":"0820 0502","v":37},{"t":"0820 0502","v":40},{"t":"0820 0502","v":43},{"t":"0820 0502","v":47},{"t":"0820 0502","v":51},{"t":"0820 0502","v":56},{"t":"0820 0502","v":62},{"t":"0820 0502","v":70},
{"t":"0819 2132","v":30},{"t":"0819 2132","v":32},{"t":"0819 2132","v":34},{"t":"0819 2132","v":36},{"t":"0819 2132","v":38},{"t":"0819 2132","v":40},{"t":"0819 2132","v":42},{"t":"0819 2132","v":44},{"t":"0819 2132","v":46},{"t":"0819 2132","v":49},{"t":"0819 2132","v":52},{"t":"0819 2132","v":55},{"t":"0819 2132","v":58},{"t":"0819 2132","v":61},{"t":"0819 2132","v":64},{"t":"0819 2132","v":67},{"t":"0819 2132","v":70},
{"t":"0819 2312","v":30},{"t":"0819 2312","v":35},{"t":"0819 2312","v":41},{"t":"0819 2312","v":48},{"t":"0819 2312","v":56},
{"t":"0820 0052","v":31},{"t":"0820 0052","v":38},{"t":"0820 0052","v":48},
{"t":"0820 0232","v":30},{"t":"0820 0232","v":35},{"t":"0820 0232","v":45},
{"t":"0820 0412","v":31},{"t":"0820 0412","v":42},{"t":"0820 0412","v":50},
{"t":"0820 0642","v":30},{"t":"0820 0642","v":37},
{"t":"0821 2156","v":30},{"t":"0821 2156","v":32},{"t":"0821 2156","v":34},{"t":"0821 2156","v":36},{"t":"0821 2156","v":38},{"t":"0821 2156","v":40},{"t":"0821 2156","v":42},{"t":"0821 2156","v":44},{"t":"0821 2156","v":46},{"t":"0821 2156","v":48},{"t":"0821 2156","v":50},{"t":"0821 2156","v":52},{"t":"0821 2156","v":55},{"t":"0821 2156","v":58},{"t":"0821 2156","v":61},{"t":"0821 2156","v":64},{"t":"0821 2156","v":67},{"t":"0821 2156","v":70},
{"t":"0822 0436","v":30},{"t":"0822 0436","v":31},{"t":"0822 0436","v":32},{"t":"0822 0436","v":33},{"t":"0822 0436","v":34},{"t":"0822 0436","v":35.5},{"t":"0822 0436","v":37},{"t":"0822 0436","v":38.5},{"t":"0822 0436","v":40},{"t":"0822 0436","v":41.5},{"t":"0822 0436","v":43},{"t":"0822 0436","v":45},{"t":"0822 0436","v":47},{"t":"0822 0436","v":49},{"t":"0822 0436","v":51},{"t":"0822 0436","v":53},{"t":"0822 0436","v":55},{"t":"0822 0436","v":58},{"t":"0822 0436","v":61},{"t":"0822 0436","v":64},{"t":"0822 0436","v":67},
{"t":"0822 0526","v":30},{"t":"0822 0526","v":32},{"t":"0822 0526","v":35},{"t":"0822 0526","v":38},{"t":"0822 0526","v":42},{"t":"0822 0526","v":46},{"t":"0822 0526","v":50},{"t":"0822 0526","v":55},
{"t":"0821 2336","v":30},{"t":"0821 2336","v":34},{"t":"0821 2336","v":40},{"t":"0821 2336","v":48},{"t":"0821 2336","v":53},
{"t":"0822 0116","v":31},{"t":"0822 0116","v":38},{"t":"0822 0116","v":47},
{"t":"0822 0256","v":30},{"t":"0822 0256","v":34},{"t":"0822 0256","v":39},{"t":"0822 0256","v":44},{"t":"0822 0256","v":50},{"t":"0822 0256","v":58},
{"t":"0821 2016","v":31},{"t":"0821 2016","v":36},
{"t":"0823 0452","v":30},{"t":"0823 0452","v":31},{"t":"0823 0452","v":32},{"t":"0823 0452","v":33},{"t":"0823 0452","v":34},{"t":"0823 0452","v":35},{"t":"0823 0452","v":36},{"t":"0823 0452","v":37.5},{"t":"0823 0452","v":39},{"t":"0823 0452","v":40.5},{"t":"0823 0452","v":42},{"t":"0823 0452","v":43.5},{"t":"0823 0452","v":45},{"t":"0823 0452","v":47},{"t":"0823 0452","v":49},{"t":"0823 0452","v":51},{"t":"0823 0452","v":53},{"t":"0823 0452","v":55},{"t":"0823 0452","v":57},{"t":"0823 0452","v":59},{"t":"0823 0452","v":61},{"t":"0823 0452","v":63},{"t":"0823 0452","v":65},{"t":"0823 0452","v":67},{"t":"0823 0452","v":69},{"t":"0823 0452","v":71},{"t":"0823 0452","v":73},{"t":"0823 0452","v":83.7},
{"t":"0823 0542","v":30},{"t":"0823 0542","v":32},{"t":"0823 0542","v":34},{"t":"0823 0542","v":36},{"t":"0823 0542","v":38},{"t":"0823 0542","v":41},{"t":"0823 0542","v":44},{"t":"0823 0542","v":47},{"t":"0823 0542","v":50},{"t":"0823 0542","v":54},{"t":"0823 0542","v":58},{"t":"0823 0542","v":63},{"t":"0823 0542","v":70},
{"t":"0822 2032","v":30},{"t":"0822 2032","v":32},{"t":"0822 2032","v":34},{"t":"0822 2032","v":36},{"t":"0822 2032","v":38},{"t":"0822 2032","v":41},{"t":"0822 2032","v":44},{"t":"0822 2032","v":47},{"t":"0822 2032","v":50},{"t":"0822 2032","v":53},{"t":"0822 2032","v":56},{"t":"0822 2032","v":58},{"t":"0822 2032","v":65.7},
{"t":"0823 0042","v":75.8},
{"t":"0822 2212","v":30},{"t":"0822 2212","v":36},{"t":"0822 2212","v":44},{"t":"0822 2212","v":49},
{"t":"0822 2352","v":31},{"t":"0822 2352","v":38},{"t":"0822 2352","v":46},{"t":"0822 2352","v":52},{"t":"0822 2352","v":61},
{"t":"0823 0132","v":30},{"t":"0823 0132","v":37},{"t":"0823 0132","v":45},
{"t":"0823 0312","v":30},{"t":"0823 0312","v":35},{"t":"0823 0312","v":39},{"t":"0823 0312","v":43},{"t":"0823 0312","v":48},{"t":"0823 0312","v":55},
{"t":"0823 0722","v":31},{"t":"0823 0722","v":40},
{"t":"0824 2146","v":30},{"t":"0824 2146","v":31},{"t":"0824 2146","v":32},{"t":"0824 2146","v":33},{"t":"0824 2146","v":34},{"t":"0824 2146","v":35},{"t":"0824 2146","v":36},{"t":"0824 2146","v":37},{"t":"0824 2146","v":38},{"t":"0824 2146","v":39.5},{"t":"0824 2146","v":41},{"t":"0824 2146","v":42.5},{"t":"0824 2146","v":44},{"t":"0824 2146","v":45.5},{"t":"0824 2146","v":47},{"t":"0824 2146","v":49},{"t":"0824 2146","v":51},{"t":"0824 2146","v":53},{"t":"0824 2146","v":55},{"t":"0824 2146","v":57},{"t":"0824 2146","v":59},{"t":"0824 2146","v":61},{"t":"0824 2146","v":63},{"t":"0824 2146","v":65},{"t":"0824 2146","v":67},{"t":"0824 2146","v":69},{"t":"0824 2146","v":71},{"t":"0824 2146","v":73},{"t":"0824 2146","v":75},{"t":"0824 2146","v":77},{"t":"0824 2146","v":80},{"t":"0824 2146","v":82},{"t":"0824 2146","v":86},
{"t":"0824 2236","v":30},{"t":"0824 2236","v":31.5},{"t":"0824 2236","v":33},{"t":"0824 2236","v":34.5},{"t":"0824 2236","v":36},{"t":"0824 2236","v":38},{"t":"0824 2236","v":40},{"t":"0824 2236","v":42},{"t":"0824 2236","v":44},{"t":"0824 2236","v":47},{"t":"0824 2236","v":50},{"t":"0824 2236","v":53},{"t":"0824 2236","v":56},{"t":"0824 2236","v":60},{"t":"0824 2236","v":64},{"t":"0824 2236","v":68},{"t":"0824 2236","v":72},{"t":"0824 2236","v":76},
{"t":"0825 0016","v":30},{"t":"0825 0016","v":32},{"t":"0825 0016","v":35},{"t":"0825 0016","v":38},{"t":"0825 0016","v":42},{"t":"0825 0016","v":46},{"t":"0825 0016","v":51},{"t":"0825 0016","v":57},{"t":"0825 0016","v":65},{"t":"0825 0016","v":72},
{"t":"0825 0156","v":30},{"t":"0825 0156","v":32},{"t":"0825 0156","v":35},{"t":"0825 0156","v":38},{"t":"0825 0156","v":42},{"t":"0825 0156","v":47},{"t":"0825 0156","v":53},{"t":"0825 0156","v":62},
{"t":"0825 0336","v":30},{"t":"0825 0336","v":34},{"t":"0825 0336","v":40},{"t":"0825 0336","v":47},{"t":"0825 0336","v":55},
{"t":"0825 0516","v":31},{"t":"0825 0516","v":38},{"t":"0825 0516","v":50},
{"t":"0825 0656","v":30},{"t":"0825 0656","v":35},
{"t":"0825 2050","v":30},{"t":"0825 2050","v":31},{"t":"0825 2050","v":32},{"t":"0825 2050","v":33},{"t":"0825 2050","v":34},{"t":"0825 2050","v":35},{"t":"0825 2050","v":36},{"t":"0825 2050","v":37.5},{"t":"0825 2050","v":39},{"t":"0825 2050","v":40.5},{"t":"0825 2050","v":42},{"t":"0825 2050","v":43.5},{"t":"0825 2050","v":45},{"t":"0825 2050","v":47},{"t":"0825 2050","v":49},{"t":"0825 2050","v":51},{"t":"0825 2050","v":53},{"t":"0825 2050","v":55},{"t":"0825 2050","v":57},{"t":"0825 2050","v":59},{"t":"0825 2050","v":61},{"t":"0825 2050","v":63},{"t":"0825 2050","v":65},{"t":"0825 2050","v":67},{"t":"0825 2050","v":69},{"t":"0825 2050","v":71},{"t":"0825 2050","v":73},{"t":"0825 2050","v":75},{"t":"0825 2050","v":77},{"t":"0825 2050","v":80.5},
{"t":"0825 2230","v":30},{"t":"0825 2230","v":32},{"t":"0825 2230","v":34},{"t":"0825 2230","v":36},{"t":"0825 2230","v":38},{"t":"0825 2230","v":40},{"t":"0825 2230","v":43},{"t":"0825 2230","v":46},{"t":"0825 2230","v":50},{"t":"0825 2230","v":54},{"t":"0825 2230","v":59},{"t":"0825 2230","v":65},{"t":"0825 2230","v":72},{"t":"0825 2230","v":76},
{"t":"0826 0010","v":30},{"t":"0826 0010","v":32},{"t":"0826 0010","v":35},{"t":"0826 0010","v":38},{"t":"0826 0010","v":41},{"t":"0826 0010","v":45},{"t":"0826 0010","v":50},{"t":"0826 0010","v":58},
{"t":"0826 0150","v":30},{"t":"0826 0150","v":33},{"t":"0826 0150","v":36},{"t":"0826 0150","v":40},{"t":"0826 0150","v":45},{"t":"0826 0150","v":52},
{"t":"0826 0330","v":30},{"t":"0826 0330","v":36},{"t":"0826 0330","v":44},
{"t":"0826 0510","v":31},{"t":"0826 0510","v":38},{"t":"0826 0510","v":50},
{"t":"0826 0650","v":30},{"t":"0826 0650","v":35},{"t":"0826 0650","v":40},{"t":"0826 0650","v":57.9},{"t":"0826 0650","v":59.6},{"t":"0826 0650","v":68.4},{"t":"0826 0650","v":73.3},
{"t":"0826 2212","v":33},{"t":"0826 2212","v":31.5}
]},
"mark":{"type":"circle","size":12,"opacity":1},
"encoding":{
"x":{"field":"t","type":"temporal","scale":{"domain":[{"year":1900,"month":7,"date":11},{"year":1900,"month":8,"date":27,"hours":10}]},
"axis":{"title":null,"format":"%m/%d","values":[{"year":1900,"month":7,"date":11},{"year":1900,"month":7,"date":13},{"year":1900,"month":7,"date":15},{"year":1900,"month":7,"date":17},{"year":1900,"month":7,"date":19},{"year":1900,"month":7,"date":21},{"year":1900,"month":7,"date":23},{"year":1900,"month":7,"date":25},{"year":1900,"month":7,"date":27},{"year":1900,"month":7,"date":29},{"year":1900,"month":7,"date":31},{"year":1900,"month":8,"date":2},{"year":1900,"month":8,"date":4},{"year":1900,"month":8,"date":6},{"year":1900,"month":8,"date":8},{"year":1900,"month":8,"date":10},{"year":1900,"month":8,"date":12},{"year":1900,"month":8,"date":14},{"year":1900,"month":8,"date":16},{"year":1900,"month":8,"date":18},{"year":1900,"month":8,"date":20},{"year":1900,"month":8,"date":22},{"year":1900,"month":8,"date":24},{"year":1900,"month":8,"date":26}],
"labelFlush":false,"labelOverlap":false,"domain":false,"ticks":false,"labelPadding":3,"labelFont":"Inter","labelFontSize":7.5,"labelFontWeight":500,"labelColor":"#333333","gridColor":"#e6e6e6","grid":true}},
"y":{"field":"v","type":"quantitative","scale":{"domain":[0,100]},
"axis":{"title":null,"values":[0,10,20,30,40,50,60,70,80,90,100],"labelExpr":"datum.value + '%'","domain":false,"ticks":false,"labelPadding":4,"labelFont":"Inter","labelFontSize":7,"labelColor":"#555555","gridColor":"#e6e6e6","grid":true}},
"color":{"datum":"Nnoc (yolobat)","type":"nominal",
"scale":{"domain":["Bbar (yolobat)","Enil (yolobat)","Eser (yolobat)","Malc (yolobat)","Mbart (yolobat)","Mbec (yolobat)","Mdas (yolobat)","Mdau (yolobat)","Mema (yolobat)","Mmyo (yolobat)","Mnat (yolobat)","Nlel (yolobat)","Nnoc (yolobat)","Plecotus (yolobat)","Pnat (yolobat)","Ppip (yolobat)","Ppyg (yolobat)","Rfer (yolobat)","Rhip (yolobat)","Vmur (yolobat)","feeding-buzz (yolobat)","social-call (yolobat)"],
"range":["#37872D","#E0B400","#1F60C4","#FA6400","#C4162A","#1F2F8F","#8F3BB8","#1B1B4A","#111111","#F2CC0C","#2A3F8F","#9A2A12","#7f1207","#111111","#111111","#111111","#73BF69","#F4B350","#2CC0C4","#FF9830","#E02F44","#3274D9"]},
"legend":{"title":null,"orient":"none","legendX":-20,"legendY":207,"direction":"horizontal","columns":22,"gridAlign":"none","symbolType":"M-1,-0.13H1V0.13H-1Z","symbolSize":49,"symbolStrokeWidth":0,"symbolOpacity":1,"labelFont":"Inter","labelFontSize":6.3,"labelColor":"#8e8e8e","labelOffset":3,"columnPadding":6,
"encode":{"labels":{"update":{"fill":{"signal":"datum.value === 'Nnoc (yolobat)' ? '#222222' : '#8e8e8e'"},"fontWeight":{"signal":"datum.value === 'Nnoc (yolobat)' ? 600 : 400"}}}}}}
}
}
